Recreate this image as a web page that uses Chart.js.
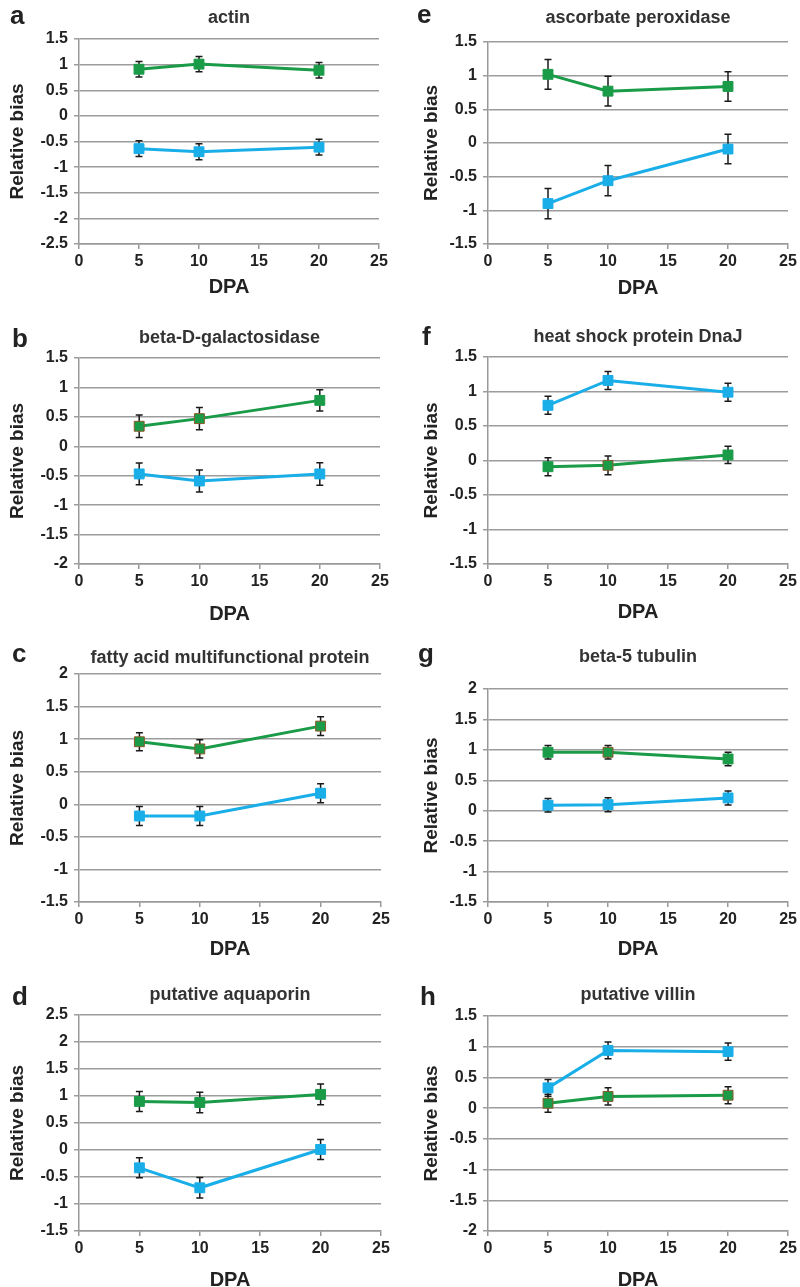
<!DOCTYPE html>
<html>
<head>
<meta charset="utf-8">
<script src="https://cdn.jsdelivr.net/npm/chart.js@4.4.1/dist/chart.umd.min.js"></script>
<style>
  html, body { margin: 0; padding: 0; background: #fff; }
  #page { position: relative; width: 800px; height: 1287px; overflow: hidden; background: #fff; }
  canvas { position: absolute; }
</style>
</head>
<body>
<div id="page"></div>
<script>
// ---------- DATA ----------
const dpa = [5, 10, 20];
const xTickValues = [0, 5, 10, 15, 20, 25];

const actinGreen = [0.91, 1.01, 0.89];
const actinGreenErr = [0.15, 0.15, 0.15];
const actinBlue = [-0.64, -0.70, -0.61];
const actinBlueErr = [0.155, 0.155, 0.155];

const galactGreen = [0.34, 0.47, 0.78];
const galactGreenErr = [0.19, 0.19, 0.18];
const galactBlue = [-0.47, -0.59, -0.47];
const galactBlueErr = [0.185, 0.185, 0.19];

const fattyGreen = [0.96, 0.85, 1.20];
const fattyGreenErr = [0.14, 0.14, 0.145];
const fattyBlue = [-0.18, -0.18, 0.17];
const fattyBlueErr = [0.145, 0.145, 0.145];

const aquaGreen = [0.90, 0.88, 1.03];
const aquaGreenErr = [0.185, 0.19, 0.19];
const aquaBlue = [-0.33, -0.70, 0.01];
const aquaBlueErr = [0.185, 0.19, 0.185];

const ascorbGreen = [1.02, 0.77, 0.84];
const ascorbGreenErr = [0.22, 0.22, 0.22];
const ascorbBlue = [-0.90, -0.56, -0.09];
const ascorbBlueErr = [0.225, 0.225, 0.22];

const hspGreen = [-0.09, -0.07, 0.08];
const hspGreenErr = [0.13, 0.135, 0.125];
const hspBlue = [0.80, 1.16, 0.99];
const hspBlueErr = [0.13, 0.13, 0.13];

const tubGreen = [0.96, 0.96, 0.85];
const tubGreenErr = [0.11, 0.11, 0.11];
const tubBlue = [0.09, 0.10, 0.21];
const tubBlueErr = [0.11, 0.115, 0.115];

const villGreen = [0.08, 0.19, 0.21];
const villGreenErr = [0.145, 0.14, 0.14];
const villBlue = [0.33, 0.94, 0.92];
const villBlueErr = [0.135, 0.135, 0.14];

const panelTitles = ['actin', 'beta-D-galactosidase', 'fatty acid multifunctional protein', 'putative aquaporin',
                     'ascorbate peroxidase', 'heat shock protein DnaJ', 'beta-5 tubulin', 'putative villin'];
const panelLetters = ['a', 'b', 'c', 'd', 'e', 'f', 'g', 'h'];
const yMins = [-2.5, -2, -1.5, -1.5, -1.5, -1.5, -1.5, -2];
const yMaxs = [1.5, 1.5, 2, 2.5, 1.5, 1.5, 2, 1.5];
const greenSeries = [actinGreen, galactGreen, fattyGreen, aquaGreen, ascorbGreen, hspGreen, tubGreen, villGreen];
const greenErrors = [actinGreenErr, galactGreenErr, fattyGreenErr, aquaGreenErr, ascorbGreenErr, hspGreenErr, tubGreenErr, villGreenErr];
const blueSeries = [actinBlue, galactBlue, fattyBlue, aquaBlue, ascorbBlue, hspBlue, tubBlue, villBlue];
const blueErrors = [actinBlueErr, galactBlueErr, fattyBlueErr, aquaBlueErr, ascorbBlueErr, hspBlueErr, tubBlueErr, villBlueErr];

// ---------- LAYOUT / STYLE ----------
const GREEN = '#1a9b48';
const BLUE = '#19aee8';
const EDGE = '#8a5a2a';
const greenEdges = [[0,0,0],[1,1,0],[1,1,1],[0,0,0],[0,0,0],[0,1,0],[0,1,0],[1,1,1]];
// page coords of each plot area
const layoutBoxes = [
  {col:0, cy:0,   L:79,  R:379, T:39,   B:242,  titleY:18,  dpaY:285,  letterX:10,  letterY:24},
  {col:0, cy:300, L:79,  R:380, T:358,  B:562,  titleY:338, dpaY:612,  letterX:12,  letterY:347},
  {col:0, cy:625, L:79,  R:381, T:674,  B:900,  titleY:658, dpaY:947,  letterX:12,  letterY:662},
  {col:0, cy:960, L:79,  R:381, T:1015, B:1229, titleY:995, dpaY:1278, letterX:12,  letterY:1005},
  {col:1, cy:0,   L:488, R:788, T:42,   B:242,  titleY:18,  dpaY:286,  letterX:417, letterY:23},
  {col:1, cy:300, L:488, R:788, T:357,  B:562,  titleY:337, dpaY:610,  letterX:422, letterY:345},
  {col:1, cy:625, L:488, R:789, T:689,  B:900,  titleY:657, dpaY:947,  letterX:418, letterY:662},
  {col:1, cy:960, L:488, R:790, T:1016, B:1229, titleY:995, dpaY:1278, letterX:420, letterY:1005}
];

const FONT = '"Liberation Sans", Arial, Helvetica, sans-serif';
Chart.defaults.font.family = FONT;
Chart.defaults.font.weight = 'bold';
Chart.defaults.color = '#222';

const errorBarPlugin = {
  id: 'errorBars',
  beforeDatasetsDraw(chart) {
    const ctx = chart.ctx, xs = chart.scales.x, ys = chart.scales.y;
    ctx.save();
    ctx.strokeStyle = '#1a1a1a';
    ctx.lineWidth = 1.5;
    chart.data.datasets.forEach(ds => {
      ds.data.forEach((p, i) => {
        const e = ds.errors[i];
        const x = xs.getPixelForValue(p.x);
        const yt = ys.getPixelForValue(p.y + e);
        const yb = ys.getPixelForValue(p.y - e);
        ctx.beginPath();
        ctx.moveTo(x, yt); ctx.lineTo(x, yb);
        ctx.moveTo(x - 3.5, yt); ctx.lineTo(x + 3.5, yt);
        ctx.moveTo(x - 3.5, yb); ctx.lineTo(x + 3.5, yb);
        ctx.stroke();
      });
    });
    ctx.restore();
  }
};

const letterPlugin = {
  id: 'panelLetter',
  afterDraw(chart, args, opts) {
    const ctx = chart.ctx;
    ctx.save();
    ctx.font = 'bold 26px ' + FONT;
    ctx.fillStyle = '#222';
    ctx.textAlign = 'left';
    ctx.textBaseline = 'alphabetic';
    ctx.fillText(opts.text, opts.x, opts.y);
    ctx.restore();
  }
};

const page = document.getElementById('page');

layoutBoxes.forEach((bx, k) => {
  const cx = bx.col * 400;
  const W = 400;
  const tickFont = 16, titleFont = 18, axisTitleFont = 20, yTitleFont = 19;
  const xScaleH = bx.dpaY - bx.B + axisTitleFont * 1.2 / 2;
  const H = Math.ceil(bx.B + xScaleH - bx.cy + 2);
  const canvas = document.createElement('canvas');
  canvas.width = W; canvas.height = H;
  canvas.style.left = cx + 'px'; canvas.style.top = bx.cy + 'px';
  canvas.style.width = W + 'px'; canvas.style.height = H + 'px';
  page.appendChild(canvas);

  const ptTitle = bx.titleY - bx.cy - titleFont * 1.2 / 2;
  const pbTitle = bx.T - bx.titleY - titleFont * 1.2 / 2;
  const yTitleCenter = bx.col === 0 ? 18 : 32;

  const mk = (vals, errs, color, edges) => ({
    data: dpa.map((d, i) => ({x: d, y: vals[i]})),
    errors: errs,
    borderColor: color,
    backgroundColor: color,
    borderWidth: 3,
    pointStyle: 'rect',
    pointRadius: 7,
    pointHoverRadius: 7,
    pointBackgroundColor: color,
    pointBorderColor: edges ? edges.map(e => e ? EDGE : color) : color,
    pointBorderWidth: 1,
    tension: 0,
    fill: false
  });

  new Chart(canvas, {
    type: 'line',
    data: {
      datasets: [
        mk(greenSeries[k], greenErrors[k], GREEN, greenEdges[k]),
        mk(blueSeries[k], blueErrors[k], BLUE, null)
      ]
    },
    options: {
      responsive: false,
      animation: false,
      devicePixelRatio: 1,
      layout: { padding: { left: 0, right: cx + W - bx.R, top: 0, bottom: 0 } },
      plugins: {
        legend: { display: false },
        tooltip: { enabled: false },
        title: {
          display: true,
          text: panelTitles[k],
          fullSize: false,
          color: '#333',
          font: { size: titleFont, weight: 'bold' },
          padding: { top: ptTitle, bottom: pbTitle }
        },
        panelLetter: { text: panelLetters[k], x: bx.letterX - cx, y: bx.letterY - bx.cy }
      },
      scales: {
        x: {
          type: 'linear',
          min: 0, max: 25,
          afterBuildTicks: s => { s.ticks = xTickValues.map(v => ({value: v})); },
          afterFit: s => { s.height = xScaleH; },
          ticks: { font: { size: tickFont, weight: 'bold' }, color: '#222', padding: 3, maxRotation: 0,
                   callback: v => String(v) },
          grid: { drawOnChartArea: false, drawTicks: true, tickLength: 5, color: '#999', lineWidth: 1.5 },
          border: { display: true, color: '#999', width: 1.5 },
          title: { display: true, text: 'DPA', color: '#222', font: { size: axisTitleFont, weight: 'bold' },
                   padding: { top: 0, bottom: 0 } }
        },
        y: {
          type: 'linear',
          min: yMins[k], max: yMaxs[k],
          ticks: { stepSize: 0.5, font: { size: tickFont, weight: 'bold' }, color: '#222', padding: 6,
                   callback: v => String(Math.round(v * 10) / 10) },
          afterFit: s => { s.width = bx.L - cx; },
          grid: { drawOnChartArea: true, drawTicks: true, tickLength: 5, color: '#9c9c9c', lineWidth: 1.5 },
          border: { display: true, color: '#999', width: 1.5 },
          title: { display: true, text: 'Relative bias', color: '#222', font: { size: yTitleFont, weight: 'bold' },
                   padding: { top: yTitleCenter - yTitleFont * 0.6, bottom: 0 } }
        }
      }
    },
    plugins: [errorBarPlugin, letterPlugin]
  });
});
</script>
</body>
</html>
